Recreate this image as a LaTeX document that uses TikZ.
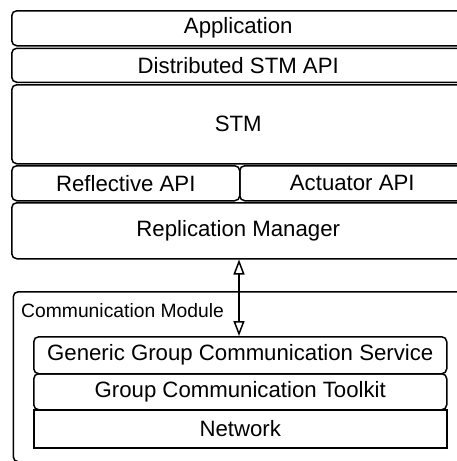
\documentclass[tikz,border=0pt]{standalone}
\usepackage{fontspec}
\setmainfont{Liberation Sans}
\usetikzlibrary{arrows.meta}

\begin{document}
\begin{tikzpicture}[x = 1pt, y = -1pt,
    layer/.style = {draw, line width = 1.5pt, rounded corners = 5pt, anchor = north west,
        inner sep = 0pt, font = \fontsize{22.2}{26}\selectfont},
    flat/.style = {layer, rounded corners = 0pt}]
    \useasboundingbox (0,0) rectangle (457,461);
    \clip (0,0) rectangle (457,461);
    % upper stack
    \node[layer, minimum width = 453pt, minimum height = 35pt] (App) at (11,10) {Application};
    \node[layer, minimum width = 453pt, minimum height = 34pt] (Dist) at (11,47.5) {Distributed STM API};
    \node[layer, minimum width = 453pt, minimum height = 79pt] (STM) at (11,84) {STM};
    \node[layer, minimum width = 228pt, minimum height = 35pt] (Refl) at (11,165) {Reflective API};
    \node[layer, minimum width = 225pt, minimum height = 35pt] (Act) at (239,165) {Actuator API};
    \node[layer, minimum width = 453pt, minimum height = 56pt] (RM) at (11,202) {Replication Manager};
    % communication module
    \node[layer, minimum width = 460pt, minimum height = 170pt] (CM) at (12.5,291) {};
    \node[anchor = base west, inner sep = 0pt, font = \fontsize{19.3}{23}\selectfont] (CMlabel) at (21,317) {Communication Module};
    \node[layer, minimum width = 413pt, minimum height = 37pt] (GGCS) at (33,336) {Generic Group Communication Service};
    \node[layer, minimum width = 413pt, minimum height = 36pt] (GCT) at (33,373) {Group Communication Toolkit};
    \node[flat, minimum width = 413pt, minimum height = 38pt] (Net) at (33,409) {Network};
    \draw[line width = 1.5pt, {Triangle[open, length = 15pt, width = 11pt]}-{Triangle[open, length = 15pt, width = 11pt]}]
        (RM.south -| Act.west) -- (GGCS.north -| Act.west);
\end{tikzpicture}
\end{document}
